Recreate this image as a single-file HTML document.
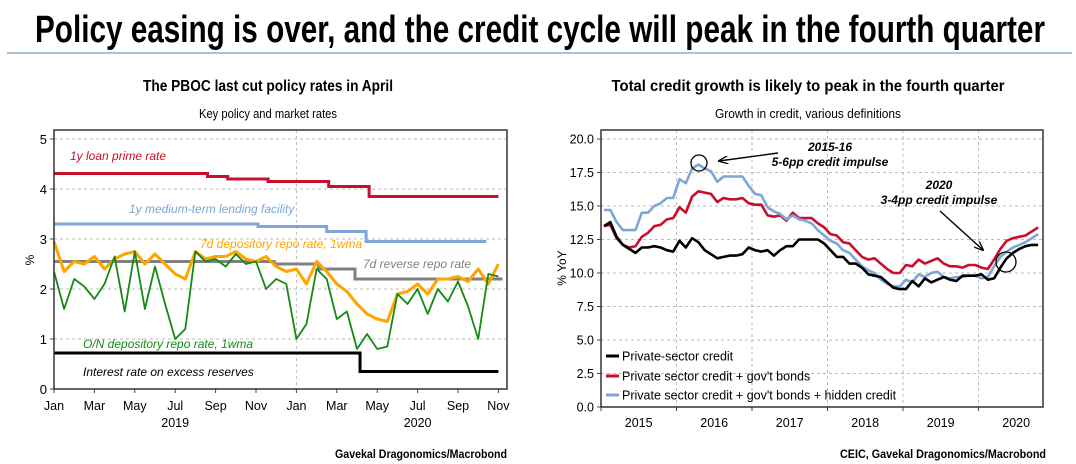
<!DOCTYPE html>
<html><head><meta charset="utf-8">
<style>
html,body{margin:0;padding:0;background:#fff;}
svg{display:block;font-family:"Liberation Sans",sans-serif;}
</style></head>
<body>
<svg id="s" width="1076" height="464" viewBox="0 0 1076 464" xmlns="http://www.w3.org/2000/svg">
<text x="540" y="42" text-anchor="middle" font-size="38" font-weight="bold" textLength="1010" lengthAdjust="spacingAndGlyphs">Policy easing is over, and the credit cycle will peak in the fourth quarter</text>
<line x1="7" y1="53" x2="1072" y2="53" stroke="#a9c3df" stroke-width="2"/>
<text x="268" y="91" text-anchor="middle" font-size="15.5" font-weight="bold" textLength="250" lengthAdjust="spacingAndGlyphs">The PBOC last cut policy rates in April</text>
<text x="268" y="118" text-anchor="middle" font-size="12.5" textLength="138" lengthAdjust="spacingAndGlyphs">Key policy and market rates</text>
<text x="808" y="91" text-anchor="middle" font-size="15.5" font-weight="bold" textLength="393" lengthAdjust="spacingAndGlyphs">Total credit growth is likely to peak in the fourth quarter</text>
<text x="808" y="118" text-anchor="middle" font-size="12.5" textLength="186" lengthAdjust="spacingAndGlyphs">Growth in credit, various definitions</text>
<g id="L"></g>
<g id="R"></g>
<text x="507" y="458" text-anchor="end" font-size="11.5" font-weight="bold" textLength="172" lengthAdjust="spacingAndGlyphs">Gavekal Dragonomics/Macrobond</text>
<text x="1046" y="458" text-anchor="end" font-size="11.5" font-weight="bold" textLength="206" lengthAdjust="spacingAndGlyphs">CEIC, Gavekal Dragonomics/Macrobond</text>
</svg>
<script>
// ---------- Left chart data (x in months since Jan 2019) ----------
const leftYTicks = [0,1,2,3,4,5];
const leftMonthLabels = ["Jan","Mar","May","Jul","Sep","Nov","Jan","Mar","May","Jul","Sep","Nov"];
const leftYearLabels = ["2019","2020"];
const lprSteps = [[0,4.31],[7.6,4.25],[8.6,4.20],[10.6,4.15],[13.6,4.05],[15.6,3.85],[22,3.85]];
const mlfSteps = [[0,3.30],[10.1,3.25],[13.5,3.15],[15.45,2.95],[21.4,2.95]];
const rrpSteps = [[0,2.55],[10.9,2.50],[13.1,2.40],[14.9,2.20],[22.2,2.20]];
const ioerSteps = [[0,0.72],[15.15,0.35],[22,0.35]];
const repoMonths = [0,0.5,1,1.5,2,2.5,3,3.5,4,4.5,5,5.5,6,6.5,7,7.5,8,8.5,9,9.5,10,10.5,11,11.5,12,12.5,13,13.5,14,14.5,15,15.5,16,16.5,17,17.5,18,18.5,19,19.5,20,20.5,21,21.5,22];
const repo7d = [2.95,2.35,2.55,2.5,2.65,2.4,2.6,2.7,2.75,2.5,2.7,2.5,2.3,2.2,2.75,2.6,2.65,2.65,2.75,2.6,2.55,2.65,2.45,2.35,2.4,2.1,2.55,2.35,2.1,1.95,1.7,1.5,1.4,1.35,1.9,1.95,2.1,1.9,2.2,2.2,2.25,2.15,2.4,2.1,2.5];
const repoON = [2.35,1.6,2.2,2.05,1.8,2.1,2.65,1.55,2.75,1.6,2.45,1.7,1.0,1.2,2.75,2.55,2.6,2.45,2.7,2.5,2.55,2.0,2.2,2.1,1.0,1.3,2.4,2.2,1.4,1.55,0.8,1.1,0.8,0.85,1.9,1.7,2.0,1.5,2.0,1.75,2.15,1.65,1.0,2.3,2.25];
// ---------- Right chart data (monthly from Jan 2015) ----------
const rightYTicks = [0,2.5,5,7.5,10,12.5,15,17.5,20];
const rightYears = ["2015","2016","2017","2018","2019","2020"];
const privateCredit = [13.5,13.8,12.7,12.1,11.8,11.5,11.9,11.9,12.0,11.9,11.7,11.6,12.4,11.9,12.6,12.3,11.7,11.4,11.1,11.2,11.3,11.3,11.4,11.9,11.7,11.6,11.7,11.3,11.7,12.0,12.0,12.5,12.5,12.5,12.5,12.2,11.7,11.2,11.2,10.7,10.7,10.4,9.9,9.8,9.7,9.3,8.9,8.8,8.8,9.4,9.0,9.6,9.3,9.5,9.7,9.5,9.4,9.8,9.8,9.8,9.9,9.5,9.6,10.4,11.1,11.5,11.8,12.0,12.1,12.1];
const creditGovBonds = [13.5,13.6,12.6,12.1,11.9,12.0,12.7,13.0,13.5,13.6,14.0,14.1,14.9,14.5,15.7,16.1,16.0,15.9,15.3,15.6,15.5,15.5,15.6,15.2,15.1,15.1,14.3,14.2,14.3,13.9,14.5,14.1,14.1,14.1,13.7,13.4,12.9,12.8,12.3,12.2,11.7,11.2,11.0,11.1,10.7,10.3,10.0,10.0,10.6,10.5,11.0,10.7,10.9,11.1,10.7,10.5,10.5,10.4,10.6,10.6,10.4,10.3,11.0,11.8,12.4,12.6,12.7,12.8,13.1,13.4];
const creditHidden = [14.7,14.7,13.8,13.2,13.2,13.2,14.5,14.5,15.0,15.2,15.6,15.6,17.0,16.7,17.8,18.1,17.8,17.6,16.8,17.2,17.2,17.2,17.2,16.5,15.9,15.8,14.9,14.6,14.4,14.0,14.3,14.0,13.9,13.7,13.2,12.8,12.4,12.2,11.7,11.5,11.0,10.5,10.2,10.0,9.5,9.2,9.0,9.0,9.5,9.3,9.9,9.7,10.0,10.1,9.7,9.6,9.7,9.7,9.8,9.8,9.6,9.7,10.5,11.2,11.6,11.9,12.1,12.3,12.6,12.9];

const NS="http://www.w3.org/2000/svg";
function mk(parent,tag,attrs){const e=document.createElementNS(NS,tag);for(const k in attrs)e.setAttribute(k,attrs[k]);parent.appendChild(e);return e;}

// ---------- Left chart ----------
const L=document.getElementById('L');
const lx0=54,lx1=507,ly0=130,ly1=389;
const lxs=m=>54+20.2*m;
const lys=v=>389-50*v;
leftYTicks.forEach(v=>{
  if(v>0){const g=mk(L,'line',{x1:lx0,x2:lx1,y1:lys(v),y2:lys(v),stroke:'#bbb','stroke-dasharray':'3,3','stroke-width':1});
  
  }
  const t=mk(L,'text',{x:lx0-7,y:lys(v)+5,'text-anchor':'end','font-size':13});t.textContent=v;
  
  
  mk(L,'line',{x1:lx0-4,x2:lx0,y1:lys(v),y2:lys(v),stroke:'#444'});
});
{const g=mk(L,'line',{x1:lxs(12),x2:lxs(12),y1:ly0,y2:ly1,stroke:'#bbb','stroke-dasharray':'3,3'});

}
leftMonthLabels.forEach((lab,i)=>{
  const x=lxs(i*2);
  mk(L,'line',{x1:x,x2:x,y1:ly1,y2:ly1+4,stroke:'#444'});
  const t=mk(L,'text',{x:x,y:410,'text-anchor':'middle','font-size':12.5});t.textContent=lab;
  
  
});
leftYearLabels.forEach((lab,i)=>{
  const t=mk(L,'text',{x:lxs(i*12+6),y:427,'text-anchor':'middle','font-size':12.5});t.textContent=lab;
  
  
});
{const t=mk(L,'text',{x:34,y:260,'text-anchor':'middle','font-size':12,transform:'rotate(-90 34 260)'});t.textContent='%';

}
function stepPath(st){let d='';for(let i=0;i<st.length;i++){const x=lxs(st[i][0]),y=lys(st[i][1]);if(i==0)d+='M'+x+','+y;else{d+='L'+x+','+lys(st[i-1][1])+'L'+x+','+y;}}return d;}
function linePath(xs,ys,fx,fy){return xs.map((x,i)=>(i?'L':'M')+fx(x).toFixed(1)+','+fy(ys[i]).toFixed(1)).join('');}
[[rrpSteps,'#808080','rrp-line'],[mlfSteps,'#7ea6d6','mlf-line'],[lprSteps,'#c8102e','lpr-line'],[ioerSteps,'#000','ioer-line']].forEach(([st,c,n])=>{
  const p=mk(L,'path',{d:stepPath(st),fill:'none',stroke:c,'stroke-width':3});
  
  
});
{const p=mk(L,'path',{d:linePath(repoMonths,repo7d,lxs,lys),fill:'none',stroke:'#ffa500','stroke-width':3,'stroke-linejoin':'round'});

}
{const p=mk(L,'path',{d:linePath(repoMonths,repoON,lxs,lys),fill:'none',stroke:'#138a13','stroke-width':1.8,'stroke-linejoin':'round'});

}
{const f=mk(L,'rect',{x:lx0,y:ly0,width:lx1-lx0,height:ly1-ly0,fill:'none',stroke:'#333','stroke-width':1.5});

}
[['1y loan prime rate',70,160,'#c8102e','lpr-label'],['1y medium-term lending facility',129,213,'#7ea6d6','mlf-label'],['7d depository repo rate, 1wma',200,248,'#ffa500','repo-7d-label'],['7d reverse repo rate',363,268,'#808080','rrp-label'],['O/N depository repo rate, 1wma',83,348,'#138a13','repo-on-label'],['Interest rate on excess reserves',83,376,'#000','ioer-label']].forEach(([s,x,y,c,n])=>{
  const t=mk(L,'text',{x:x,y:y,'font-size':12,'font-style':'italic',fill:c});t.textContent=s;
  
  
});

// ---------- Right chart ----------
const R=document.getElementById('R');
const rx0=601,rx1=1043,ry0=130,ry1=407;
const rxs=i=>604+75.5*i/12;
const rys=v=>407-13.4*v;
rightYTicks.forEach(v=>{
  if(v>0){const g=mk(R,'line',{x1:rx0,x2:rx1,y1:rys(v),y2:rys(v),stroke:'#bbb','stroke-dasharray':'3,3'});
  
  }
  mk(R,'line',{x1:rx0-4,x2:rx0,y1:rys(v),y2:rys(v),stroke:'#444'});
  const t=mk(R,'text',{x:rx0-7,y:rys(v)+4.5,'text-anchor':'end','font-size':12.5});t.textContent=v.toFixed(1);
  
  
});
rightYears.forEach((y,i)=>{
  const xb=601+75.5*i;
  if(i>0){const g=mk(R,'line',{x1:xb,x2:xb,y1:ry0,y2:ry1,stroke:'#bbb','stroke-dasharray':'3,3'});
  
  }
  mk(R,'line',{x1:xb,x2:xb,y1:ry1,y2:ry1+4,stroke:'#444'});
  const t=mk(R,'text',{x:xb+37.7,y:427,'text-anchor':'middle','font-size':12.5});t.textContent=y;
  
  
});
{const t=mk(R,'text',{x:566,y:268,'text-anchor':'middle','font-size':12,transform:'rotate(-90 566 268)'});t.textContent='% YoY';

}
const idx=privateCredit.map((_,i)=>i);
[[creditGovBonds,'#c8102e','credit-gov-bonds-line'],[creditHidden,'#7ea6d6','credit-hidden-line'],[privateCredit,'#000','private-credit-line']].forEach(([s,c,n])=>{
  const p=mk(R,'path',{d:linePath(idx,s,rxs,rys),fill:'none',stroke:c,'stroke-width':2.6,'stroke-linejoin':'round'});
  
  
});
{const f=mk(R,'rect',{x:rx0,y:ry0,width:rx1-rx0,height:ry1-ry0,fill:'none',stroke:'#333','stroke-width':1.5});

}
[['Private-sector credit','#000',356],['Private sector credit + gov\'t bonds','#c8102e',376],['Private sector credit + gov\'t bonds + hidden credit','#7ea6d6',395]].forEach(([s,c,y])=>{
  const l=mk(R,'line',{x1:606,x2:619,y1:y,y2:y,stroke:c,'stroke-width':3});
  
  
  const t=mk(R,'text',{x:622,y:y+4.5,'font-size':12.5});t.textContent=s;
  
  
});
// annotations
{const c=mk(R,'circle',{cx:699,cy:163,r:8,fill:'none',stroke:'#000','stroke-width':1.3});

}
{const c=mk(R,'circle',{cx:1006,cy:262,r:10,fill:'none',stroke:'#000','stroke-width':1.3});

}
const defs=mk(R,'defs',{});
const mkr=mk(defs,'marker',{id:'ah',markerWidth:10,markerHeight:8,refX:9,refY:4,orient:'auto',markerUnits:'userSpaceOnUse'});
mk(mkr,'path',{d:'M0,0L10,4L0,8',fill:'none',stroke:'#000','stroke-width':1.3});
{const a=mk(R,'line',{x1:778,y1:153,x2:719,y2:161,stroke:'#000','stroke-width':1.4,'marker-end':'url(#ah)'});

}
{const a=mk(R,'line',{x1:940,y1:211,x2:983,y2:250,stroke:'#000','stroke-width':1.4,'marker-end':'url(#ah)'});

}
[['2015-16',830,151,'annotation-2016-year'],['5-6pp credit impulse',830,166,'annotation-2016-text'],['2020',939,189,'annotation-2020-year'],['3-4pp credit impulse',939,204,'annotation-2020-text']].forEach(([s,x,y,n])=>{
  const t=mk(R,'text',{x:x,y:y,'text-anchor':'middle','font-size':12,'font-style':'italic','font-weight':'bold'});t.textContent=s;
  
  
});
</script>
</body></html>
